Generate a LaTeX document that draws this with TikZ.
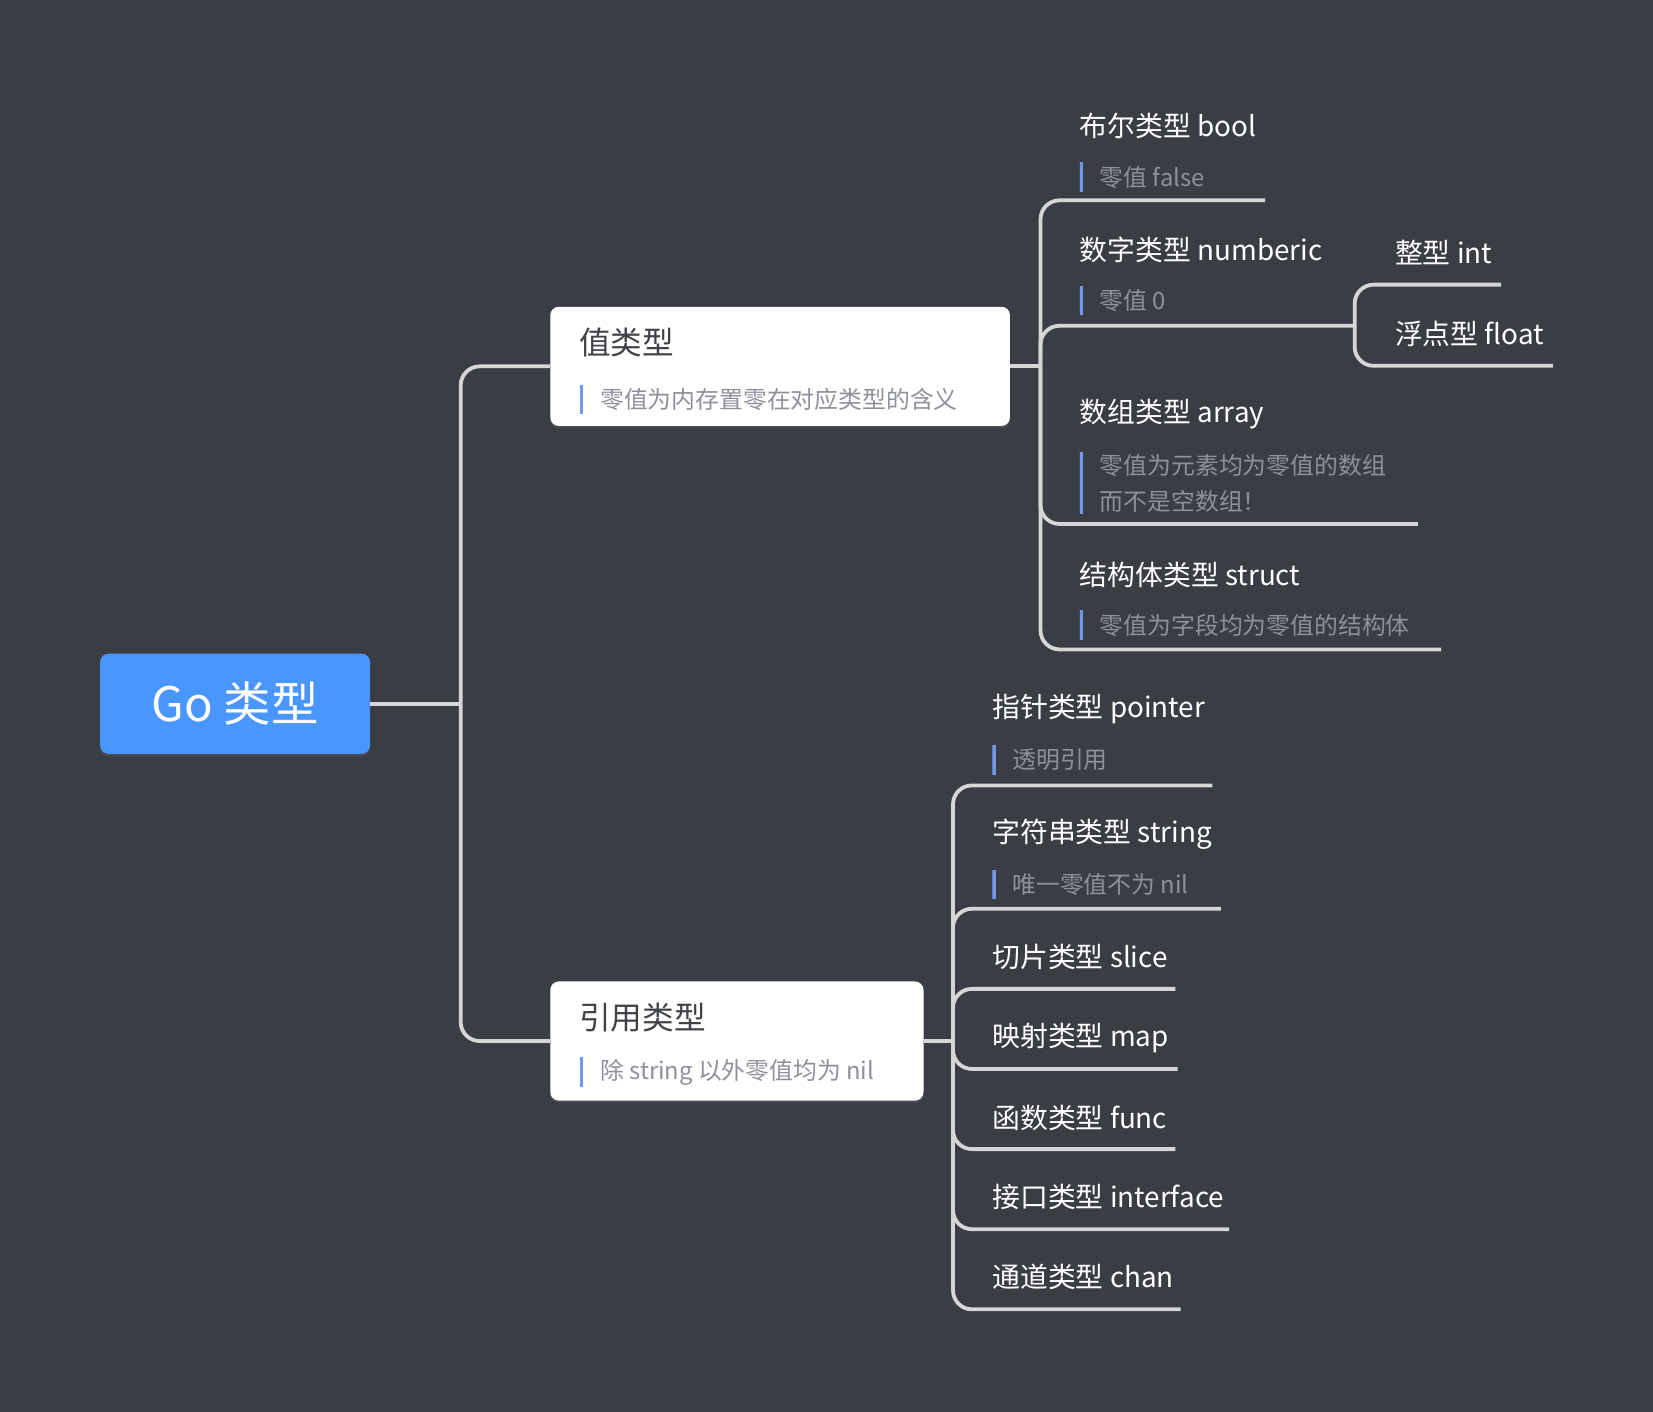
\documentclass[tikz,border=0pt]{standalone}
\usepackage{fontspec}
\setmainfont{Noto Sans CJK SC}
\usepackage{xcolor}
\usetikzlibrary{calc,shadows}
\definecolor{bg}{HTML}{3A3D43}
\definecolor{linegray}{HTML}{D6D6D6}
\definecolor{rootblue}{HTML}{4A96FF}
\definecolor{barblue}{HTML}{7199F2}
\definecolor{titlegray}{HTML}{3F4246}
\definecolor{notegray}{HTML}{8E9199}

\begin{document}
\begin{tikzpicture}[x=0.5pt,y=-0.5pt,
    conn/.style={draw=linegray,line width=1.8pt,rounded corners=9pt},
    rootbox/.style={fill=rootblue,rounded corners=4pt,minimum width=128pt,minimum height=47.5pt,
        text=white,font=\fontsize{22.5}{27}\selectfont,
        drop shadow={opacity=.2,shadow xshift=0pt,shadow yshift=-1.2pt}},
    box/.style={fill=white,rounded corners=4pt,minimum height=56.5pt,
        drop shadow={opacity=.2,shadow xshift=0pt,shadow yshift=-1.2pt}},
    boxtitle/.style={anchor=west,inner sep=0pt,text=titlegray,font=\fontsize{15}{18}\selectfont},
    item/.style={anchor=west,inner sep=0pt,text=white,font=\fontsize{13.2}{16}\selectfont},
    note/.style={anchor=west,inner xsep=9.5pt,inner ysep=1pt,minimum height=14pt,align=left,
        text=notegray,font=\fontsize{11.3}{17}\selectfont,
        path picture={\draw[barblue,line width=3pt] (path picture bounding box.north west) -- (path picture bounding box.south west);}}]
    \useasboundingbox (0,0) rectangle (1568,1339);
    \fill[bg] (0,0) rectangle (1568,1339);
    \node[rootbox] (G) at (223,667.5) {Go 类型};
    \node[box,minimum width=218pt] (V) at (740,347.5) {};
    \node[box,minimum width=177pt] (R) at (699,987.5) {};
    \node[boxtitle] (Vt) at (549,325) {值类型};
    \node[note] (Vn) at (550,379) {零值为内存置零在对应类型的含义};
    \node[boxtitle] (Rt) at (549,965) {引用类型};
    \node[note] (Rn) at (550,1017) {除 string 以外零值均为 nil};
    \coordinate (G0) at (437,667.5);
    \coordinate (V0) at (987,347.5);
    \coordinate (R0) at (904,987.5);
    \coordinate (N0) at (1285,309);
    \node[item] (V1) at (1024,119) {布尔类型 bool};
    \node[note] (V1n) at (1024,168) {零值 false};
    \coordinate (V1e) at (1200,190);
    \node[item] (V2) at (1024,237) {数字类型 numberic};
    \node[note] (V2n) at (1024,285) {零值 0};
    \node[item] (N1) at (1323,240) {整型 int};
    \coordinate (N1e) at (1424,270);
    \node[item] (N2) at (1323,317) {浮点型 float};
    \coordinate (N2e) at (1473,347);
    \node[item] (V3) at (1024,393) {数组类型 array};
    \node[note] (V3n) at (1024,458.5) {零值为元素均为零值的数组\\而不是空数组！};
    \coordinate (V3e) at (1345,497);
    \node[item] (V4) at (1024,545) {结构体类型 struct};
    \node[note] (V4n) at (1024,593) {零值为字段均为零值的结构体};
    \coordinate (V4e) at (1367,616);
    \node[item] (R1) at (941,673) {指针类型 pointer};
    \node[note] (R1n) at (941,721) {透明引用};
    \coordinate (R1e) at (1150,745);
    \node[item] (R2) at (941,791) {字符串类型 string};
    \node[note] (R2n) at (941,839) {唯一零值不为 nil};
    \coordinate (R2e) at (1158,862);
    \node[item] (R3) at (941,908) {切片类型 slice};
    \coordinate (R3e) at (1115,938);
    \node[item] (R4) at (941,985) {映射类型 map};
    \coordinate (R4e) at (1117,1014);
    \node[item] (R5) at (941,1060) {函数类型 func};
    \coordinate (R5e) at (1115,1090);
    \node[item] (R6) at (941,1135) {接口类型 interface};
    \coordinate (R6e) at (1166,1166);
    \node[item] (R7) at (941,1211) {通道类型 chan};
    \coordinate (R7e) at (1120,1242);
    \draw[conn] (G.east) -- (G0);
    \draw[conn] (G0) |- (V.west);
    \draw[conn] (G0) |- (R.west);
    \draw[conn] (V.east) -- (V0);
    \foreach \e in {V1e,N0,V3e,V4e}
        \draw[conn] (V0) |- (\e);
    \foreach \e in {N1e,N2e}
        \draw[conn] (N0) |- (\e);
    \draw[conn] (R.east) -- (R0);
    \foreach \e in {R1e,R2e,R3e,R4e,R5e,R6e,R7e}
        \draw[conn] (R0) |- (\e);
\end{tikzpicture}
\end{document}
